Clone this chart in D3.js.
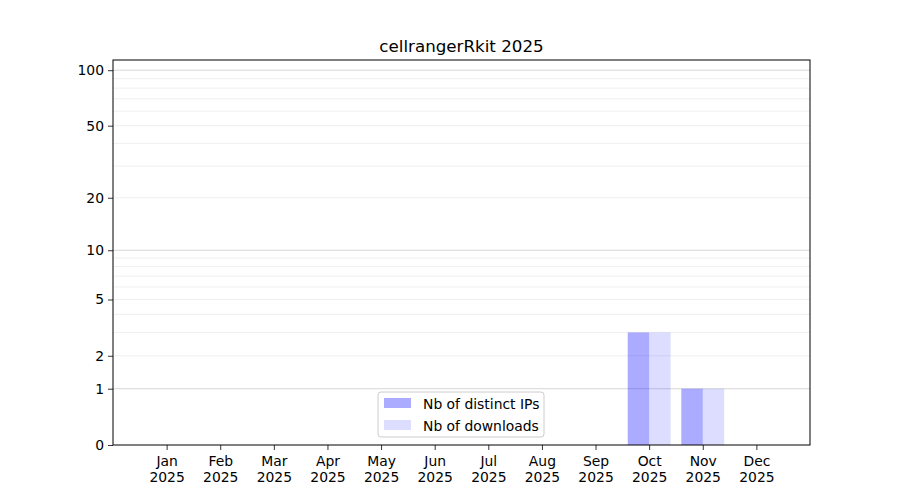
<!DOCTYPE html>
<html>
<head>
<meta charset="utf-8">
<script src="https://cdn.jsdelivr.net/npm/d3@7"></script>
<style>
body { margin:0; background:#fff; }
text { font-family:"DejaVu Sans", sans-serif; fill:#000; }
</style>
</head>
<body>
<svg id="svg" width="900" height="500"></svg>
<script>
var months = ["Jan","Feb","Mar","Apr","May","Jun","Jul","Aug","Sep","Oct","Nov","Dec"],
    year = "2025",
    ips = [0, 0, 0, 0, 0, 0, 0, 0, 0, 3, 1, 0],
    downloads = [0, 0, 0, 0, 0, 0, 0, 0, 0, 3, 1, 0],
    yTicks = [0, 1, 2, 5, 10, 20, 50, 100],
    majorGrid = [1, 10, 100],
    minorGrid = [2, 3, 4, 5, 6, 7, 8, 9, 20, 30, 40, 50, 60, 70, 80, 90];

var svg = d3.select("#svg");
var L = 113, R = 810, T = 60, B = 445, fs = 13.9;

var x = d3.scaleLinear().domain([0, 13]).range([L, R]),
    y = d3.scaleSymlog().constant(1).domain([0, 113.5]).range([B, T]);

var bw = 0.4;

// grid
svg.append("g").selectAll().data(minorGrid).enter().append("line")
    .attr("x1", L).attr("x2", R).attr("y1", d => y(d)).attr("y2", d => y(d))
    .attr("stroke", "#ebebeb").attr("stroke-width", 0.8);
svg.append("g").selectAll().data(majorGrid).enter().append("line")
    .attr("x1", L).attr("x2", R).attr("y1", d => y(d)).attr("y2", d => y(d))
    .attr("stroke", "#cccccc").attr("stroke-width", 0.8);

// bars
var series = [
    {name: "Nb of distinct IPs", vals: ips, off: -bw, op: 0.33},
    {name: "Nb of downloads", vals: downloads, off: 0, op: 0.135}
];
series.forEach(s => {
    svg.append("g").selectAll().data(s.vals).enter().append("rect")
        .attr("x", (d, i) => x(i + 1 + s.off))
        .attr("width", x(bw) - x(0))
        .attr("y", d => y(d))
        .attr("height", d => B - y(d))
        .attr("fill", "blue").attr("fill-opacity", s.op);
});

// axes
var xAxis = svg.append("g").attr("transform", "translate(0," + B + ")")
    .call(d3.axisBottom(x).tickValues(d3.range(1, 13)).tickSize(5).tickFormat(""));
xAxis.selectAll(".tick text").remove();
xAxis.selectAll(".tick").append("text")
    .attr("text-anchor", "middle").attr("font-size", fs)
    .selectAll().data((d) => [months[d - 1], year]).enter().append("tspan")
    .attr("x", 0).attr("y", (d, i) => 21 + i * 16).text(d => d);

var yAxis = svg.append("g").attr("transform", "translate(" + L + ",0)")
    .call(d3.axisLeft(y).tickValues(yTicks).tickSize(5).tickPadding(4).tickFormat(d3.format("d")));
yAxis.selectAll("text").attr("font-size", fs).attr("font-family", "DejaVu Sans");
xAxis.selectAll("text").attr("font-family", "DejaVu Sans");
svg.selectAll(".domain").remove();
svg.selectAll(".tick line").attr("stroke", "#000").attr("stroke-width", 0.8);

svg.append("rect").attr("x", L).attr("y", T).attr("width", R - L).attr("height", B - T)
    .attr("fill", "none").attr("stroke", "#000").attr("stroke-width", 1);

// title
svg.append("text").attr("x", (L + R) / 2).attr("y", 52).attr("text-anchor", "middle")
    .attr("font-size", 16.7).text("cellrangerRkit " + year);

// legend
var lg = svg.append("g").attr("transform", "translate(378,392)");
lg.append("rect").attr("width", 166).attr("height", 45).attr("rx", 3)
    .attr("fill", "#fff").attr("fill-opacity", 0.8).attr("stroke", "#cccccc");
var li = lg.selectAll().data(series).enter().append("g")
    .attr("transform", (d, i) => "translate(6," + (6 + i * 22) + ")");
li.append("rect").attr("width", 27).attr("height", 10)
    .attr("fill", "blue").attr("fill-opacity", d => d.op);
li.append("text").attr("x", 39).attr("y", 10.5).attr("font-size", fs).text(d => d.name);
</script>
</body>
</html>
